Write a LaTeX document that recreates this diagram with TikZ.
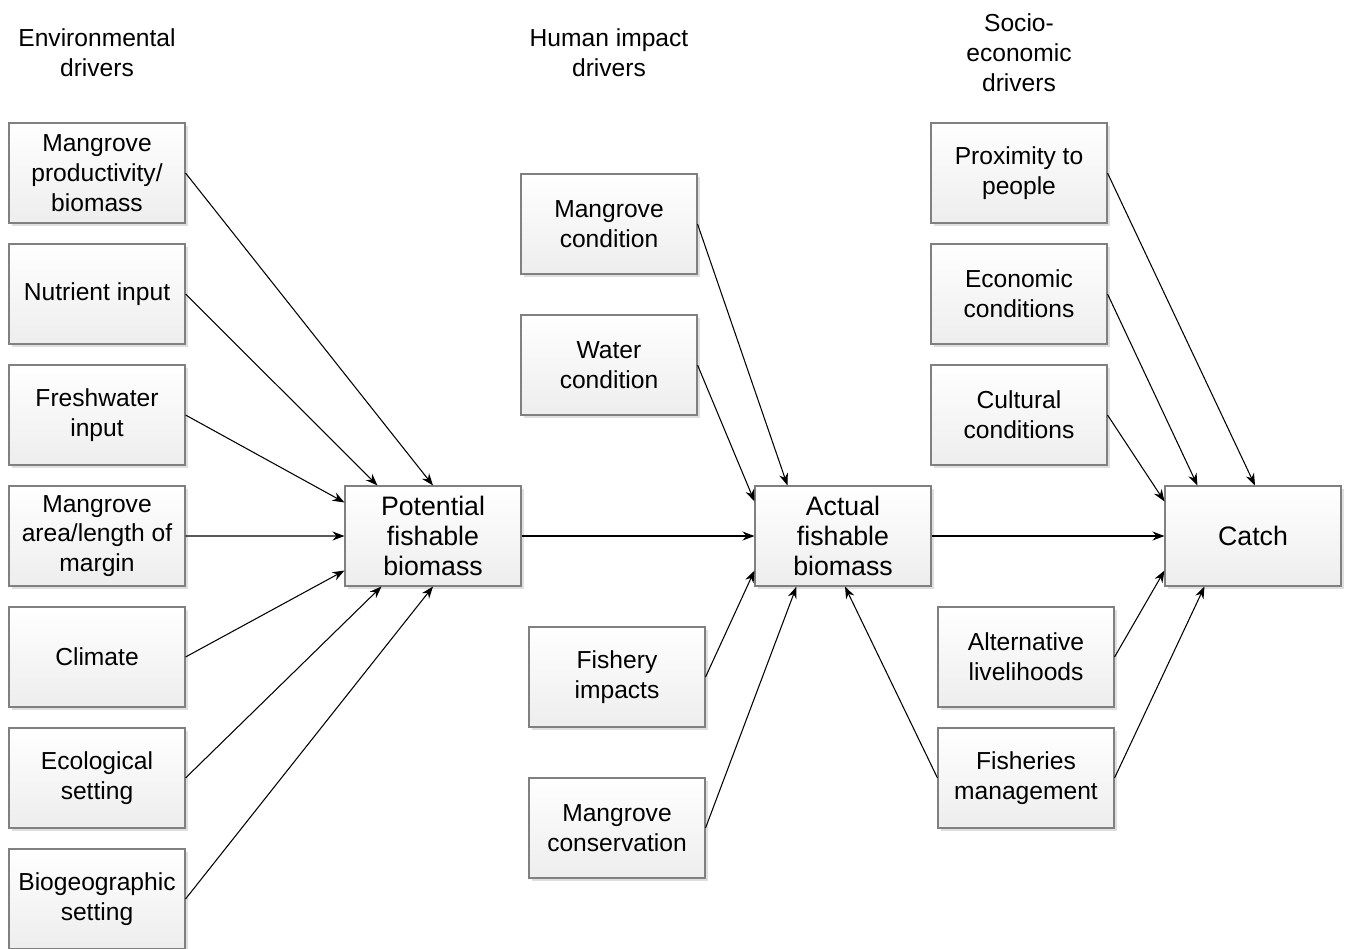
\documentclass[tikz,border=0pt]{standalone}
\usepackage{fontspec}
\setmainfont{Liberation Sans}
\usetikzlibrary{arrows.meta, shadows}
\tikzstyle{driver} = [rectangle, minimum width=3.52cm, minimum height=2cm, text centered, align=center, draw=black!50, line width=0.6pt, top color=white, bottom color=black!7, drop shadow={shadow xshift=0.05cm, shadow yshift=-0.05cm, opacity=0.25}, font=\fontsize{14}{17}\selectfont]
\tikzstyle{result} = [driver, font=\fontsize{15.2}{17}\selectfont]
\tikzstyle{header} = [align=center, font=\fontsize{14}{17}\selectfont]
\tikzstyle{arrow} = [line width=0.6pt, -{Stealth[length=2.4mm, width=1.8mm]}]

\begin{document}
\begin{tikzpicture}[node distance=2.42cm]
\useasboundingbox (0,0) rectangle (26.9,-18.96);

% headers
\node (henv) [header] at (1.94,-1.06) {Environmental\\drivers};
\node (hhum) [header] at (12.18,-1.06) {Human impact\\drivers};
\node (hsoc) [header] at (20.38,-1.06) {Socio-\\economic\\drivers};

% environmental drivers
\node (mprod) [driver] at (1.94,-3.46) {Mangrove\\productivity/\\biomass};
\node (nutr) [driver, below of=mprod] {Nutrient input};
\node (fresh) [driver, below of=nutr] {Freshwater\\input};
\node (marea) [driver, below of=fresh] {Mangrove\\area/length of\\margin};
\node (clim) [driver, below of=marea] {Climate};
\node (ecol) [driver, below of=clim] {Ecological\\setting};
\node (biog) [driver, below of=ecol] {Biogeographic\\setting};

\node (pot) [result] at (8.66,-10.72) {Potential\\fishable\\biomass};
\draw [arrow] (mprod.east) -- (pot.north);
\draw [arrow] (nutr.east) -- ([xshift=0.66cm]pot.north west);
\draw [arrow] (fresh.east) -- ([yshift=-0.34cm]pot.north west);
\draw [arrow] (marea.east) -- (pot.west);
\draw [arrow] (clim.east) -- ([yshift=0.32cm]pot.south west);
\draw [arrow] (ecol.east) -- ([xshift=0.74cm]pot.south west);
\draw [arrow] (biog.east) -- (pot.south);

% human impact drivers
\node (mcond) [driver] at (12.18,-4.48) {Mangrove\\condition};
\node (wcond) [driver, below of=mcond, yshift=-0.4cm] {Water\\condition};
\node (fimp) [driver] at (12.34,-13.54) {Fishery\\impacts};
\node (mcons) [driver, below of=fimp, yshift=-0.6cm] {Mangrove\\conservation};

\node (act) [result] at (16.86,-10.72) {Actual\\fishable\\biomass};
\draw [arrow] (pot) -- (act);
\draw [arrow] (mcond.east) -- ([xshift=0.66cm]act.north west);
\draw [arrow] (wcond.east) -- ([yshift=-0.32cm]act.north west);
\draw [arrow] (fimp.east) -- ([yshift=0.32cm]act.south west);
\draw [arrow] (mcons.east) -- ([xshift=0.84cm]act.south west);

% socio-economic drivers
\node (prox) [driver] at (20.38,-3.46) {Proximity to\\people};
\node (econ) [driver, below of=prox] {Economic\\conditions};
\node (cult) [driver, below of=econ] {Cultural\\conditions};
\node (alt) [driver] at (20.52,-13.14) {Alternative\\livelihoods};
\node (fman) [driver, below of=alt] {Fisheries\\management};

\node (catch) [result] at (25.06,-10.72) {Catch};
\draw [arrow] (act) -- (catch);
\draw [arrow] (prox.east) -- ([xshift=0.04cm]catch.north);
\draw [arrow] (econ.east) -- ([xshift=0.66cm]catch.north west);
\draw [arrow] (cult.east) -- ([yshift=-0.32cm]catch.north west);
\draw [arrow] (alt.east) -- ([yshift=0.32cm]catch.south west);
\draw [arrow] (fman.east) -- ([xshift=0.8cm]catch.south west);
\draw [arrow] (fman.west) -- ([xshift=0.04cm]act.south);

\end{tikzpicture}
\end{document}
